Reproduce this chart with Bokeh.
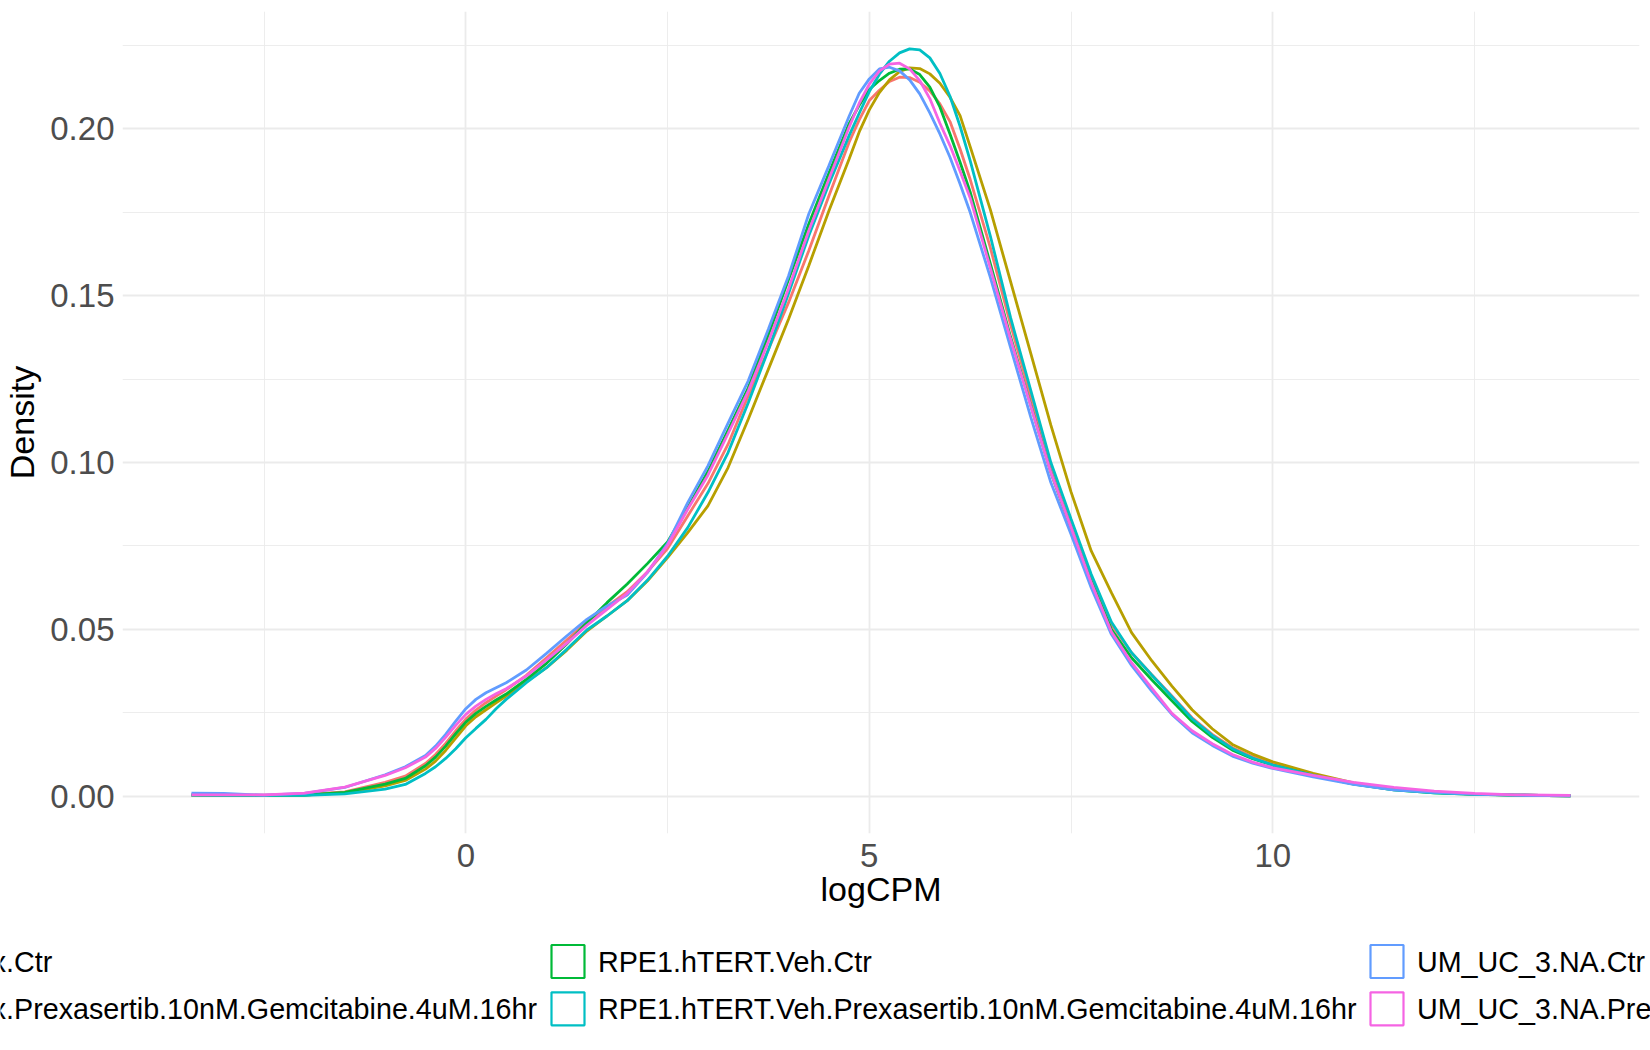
from bokeh.plotting import figure
from bokeh.models import FixedTicker, Range1d, ColumnDataSource
from bokeh.core.properties import value
from bokeh.embed import file_html
from bokeh.resources import INLINE

# ---------------- data ----------------
log_cpm = [-3.4, -3.0, -2.5, -2.0, -1.5,
           -1.0, -0.75, -0.5,
           -0.375, -0.25, -0.125, 0.0, 0.125, 0.25, 0.375, 0.5,
           0.75, 1.0, 1.25, 1.5, 1.75, 2.0, 2.25, 2.5, 2.75, 3.0, 3.25, 3.5, 3.75, 4.0, 4.25, 4.5, 4.75,
           4.875, 5.0, 5.125, 5.25, 5.375, 5.5, 5.625, 5.75, 5.875, 6.0, 6.125, 6.25,
           6.5, 6.75, 7.0, 7.25, 7.5, 7.75, 8.0, 8.25, 8.5, 8.75, 9.0,
           9.25, 9.5, 9.75, 10.0,
           10.5, 11.0, 11.5, 12.0, 12.5, 13.0, 13.69]

dens_dox_ctr = [0.0004, 0.0003, 0.0003, 0.0005, 0.0013,
                0.0041, 0.0060, 0.0098,
                0.0125, 0.0158, 0.0196, 0.0231, 0.0258, 0.0280, 0.0300, 0.0319,
                0.0362, 0.0415, 0.0468, 0.0522, 0.0568, 0.0613, 0.0672, 0.0742, 0.0840, 0.0937, 0.1055, 0.1200, 0.1339, 0.1480, 0.1635, 0.1800, 0.1960,
                0.2027, 0.2085, 0.2116, 0.2142, 0.2155, 0.2154, 0.2140, 0.2114, 0.2075, 0.2022, 0.1940, 0.1849,
                0.1644, 0.1414, 0.1199, 0.0987, 0.0817, 0.0655, 0.0515, 0.0430, 0.0364, 0.0300, 0.0235,
                0.0185, 0.0145, 0.0118, 0.0098,
                0.0065, 0.0038, 0.0021, 0.0011, 0.0006, 0.0003, 0.0001]

dens_dox_prex = [0.0003, 0.0002, 0.0002, 0.0003, 0.0010,
                 0.0031, 0.0047, 0.0081,
                 0.0105, 0.0137, 0.0174, 0.0211, 0.0238, 0.0259, 0.0280, 0.0300,
                 0.0343, 0.0385, 0.0437, 0.0495, 0.0540, 0.0586, 0.0645, 0.0715, 0.0790, 0.0870, 0.0985, 0.1130, 0.1280, 0.1430, 0.1590, 0.1755, 0.1910,
                 0.1991, 0.2057, 0.2109, 0.2147, 0.2172, 0.2183, 0.2181, 0.2165, 0.2137, 0.2095, 0.2040, 0.1947,
                 0.1758, 0.1543, 0.1328, 0.1112, 0.0912, 0.0735, 0.0610, 0.0490, 0.0406, 0.0330, 0.0259,
                 0.0202, 0.0155, 0.0126, 0.0103,
                 0.0068, 0.0040, 0.0021, 0.0011, 0.0006, 0.0003, 0.0001]

dens_veh_ctr = [0.0003, 0.0002, 0.0002, 0.0003, 0.0011,
                0.0036, 0.0053, 0.0091,
                0.0117, 0.0150, 0.0187, 0.0222, 0.0248, 0.0269, 0.0288, 0.0306,
                0.0350, 0.0398, 0.0456, 0.0520, 0.0580, 0.0636, 0.0697, 0.0762, 0.0865, 0.0973, 0.1097, 0.1224, 0.1383, 0.1549, 0.1715, 0.1868, 0.2016,
                0.2071, 0.2118, 0.2145, 0.2167, 0.2179, 0.2180, 0.2163, 0.2125, 0.2066, 0.1985, 0.1900, 0.1811,
                0.1596, 0.1377, 0.1172, 0.0970, 0.0802, 0.0645, 0.0500, 0.0415, 0.0349, 0.0286, 0.0224,
                0.0176, 0.0138, 0.0112, 0.0093,
                0.0062, 0.0036, 0.0019, 0.0010, 0.0005, 0.0003, 0.0001]

dens_veh_prex = [0.0003, 0.0002, 0.0002, 0.0002, 0.0007,
                 0.0021, 0.0035, 0.0068,
                 0.0088, 0.0113, 0.0142, 0.0175, 0.0203, 0.0230, 0.0262, 0.0290,
                 0.0340, 0.0385, 0.0440, 0.0498, 0.0540, 0.0586, 0.0647, 0.0719, 0.0805, 0.0910, 0.1030, 0.1179, 0.1338, 0.1507, 0.1680, 0.1835, 0.1980,
                 0.2047, 0.2112, 0.2164, 0.2203, 0.2228, 0.2240, 0.2237, 0.2213, 0.2166, 0.2098, 0.2008, 0.1905,
                 0.1679, 0.1435, 0.1217, 0.1000, 0.0831, 0.0665, 0.0522, 0.0430, 0.0363, 0.0298, 0.0232,
                 0.0182, 0.0142, 0.0114, 0.0093,
                 0.0062, 0.0037, 0.0019, 0.0010, 0.0005, 0.0003, 0.0001]

dens_um_ctr = [0.0009, 0.0008, 0.0003, 0.0008, 0.0026,
               0.0064, 0.0088, 0.0122,
               0.0150, 0.0185, 0.0225, 0.0262, 0.0290, 0.0310, 0.0325, 0.0340,
               0.0378, 0.0428, 0.0480, 0.0530, 0.0570, 0.0603, 0.0670, 0.0757, 0.0880, 0.0990, 0.1118, 0.1245, 0.1400, 0.1560, 0.1745, 0.1890, 0.2038,
               0.2107, 0.2150, 0.2180, 0.2185, 0.2174, 0.2147, 0.2105, 0.2048, 0.1985, 0.1915, 0.1835, 0.1750,
               0.1555, 0.1345, 0.1137, 0.0940, 0.0785, 0.0625, 0.0485, 0.0392, 0.0315, 0.0245, 0.0190,
               0.0152, 0.0120, 0.0099, 0.0083,
               0.0058, 0.0035, 0.0019, 0.0011, 0.0006, 0.0003, 0.0001]

dens_um_prex = [0.0004, 0.0004, 0.0004, 0.0009, 0.0027,
                0.0062, 0.0085, 0.0117,
                0.0143, 0.0176, 0.0212, 0.0245, 0.0270, 0.0290, 0.0307, 0.0322,
                0.0360, 0.0408, 0.0458, 0.0512, 0.0560, 0.0608, 0.0672, 0.0752, 0.0860, 0.0962, 0.1087, 0.1214, 0.1363, 0.1522, 0.1695, 0.1850, 0.2005,
                0.2077, 0.2134, 0.2173, 0.2194, 0.2197, 0.2180, 0.2145, 0.2091, 0.2017, 0.1950, 0.1873, 0.1793,
                0.1583, 0.1371, 0.1170, 0.0970, 0.0805, 0.0640, 0.0493, 0.0400, 0.0324, 0.0248, 0.0196,
                0.0157, 0.0125, 0.0102, 0.0085,
                0.0062, 0.0041, 0.0026, 0.0015, 0.0008, 0.0004, 0.0002]

sample_names = ["RPE1.hTERT.Dox.Ctr",
                "RPE1.hTERT.Dox.Prexasertib.10nM.Gemcitabine.4uM.16hr",
                "RPE1.hTERT.Veh.Ctr",
                "RPE1.hTERT.Veh.Prexasertib.10nM.Gemcitabine.4uM.16hr",
                "UM_UC_3.NA.Ctr",
                "UM_UC_3.NA.Prexasertib.10nM.Gemcitabine.4uM.16hr"]
series = [dens_dox_ctr, dens_dox_prex, dens_veh_ctr, dens_veh_prex, dens_um_ctr, dens_um_prex]
colors = ["#F8766D", "#B79F00", "#00BA38", "#00BFC4", "#619CFF", "#F564E3"]

x_ticks = [0, 5, 10]
x_tick_labels = ["0", "5", "10"]
x_minor = [-2.5, 2.5, 7.5, 12.5]
y_ticks = [0.0, 0.05, 0.10, 0.15, 0.20]
y_tick_labels = ["0.00", "0.05", "0.10", "0.15", "0.20"]
y_minor = [0.025, 0.075, 0.125, 0.175, 0.225]

# ---------------- layout constants (pixels) ----------------
PAGE_W, PAGE_H = 1650, 1050
MAIN_H = 925
LEG_H = PAGE_H - MAIN_H
FONT = "Liberation Sans"

# legend grid: 2 rows x 3 columns (column-major, like ggplot), wider than the page
leg_col_key_left = [-270, 551, 1370]
leg_row_center = [36, 83.3]
KEY = 33
KEY_GAP = 13.5

# ---------------- ranges (ggplot-like 5% expansion) ----------------
xmin, xmax = min(log_cpm), max(log_cpm)
ymax = max(max(s) for s in series)
xpad = 0.05 * (xmax - xmin)
ypad = 0.05 * ymax

p = figure(frame_width=1517, frame_height=822,
           x_range=Range1d(xmin - xpad, xmax + xpad),
           y_range=Range1d(-ypad, ymax + ypad),
           output_backend="svg", toolbar_location=None,
           min_border_left=0, min_border_top=11, min_border_right=12,
           min_border_bottom=MAIN_H - 11 - 822,
           background_fill_color="white", border_fill_color="white")
p.outline_line_color = None

for g in (p.xgrid, p.ygrid):
    g.grid_line_color = "#EBEBEB"
    g.grid_line_width = 1.8
    g.minor_grid_line_color = "#EBEBEB"
    g.minor_grid_line_width = 0.9

p.xaxis.ticker = FixedTicker(ticks=x_ticks, minor_ticks=x_minor)
p.yaxis.ticker = FixedTicker(ticks=y_ticks, minor_ticks=y_minor)
p.xaxis.major_label_overrides = {t: l for t, l in zip(x_ticks, x_tick_labels)}
p.yaxis.major_label_overrides = {t: l for t, l in zip(y_ticks, y_tick_labels)}

for ax in (p.xaxis, p.yaxis):
    ax.axis_line_color = None
    ax.major_tick_line_color = None
    ax.minor_tick_line_color = None
    ax.major_tick_out = 0
    ax.major_tick_in = 0
    ax.minor_tick_out = 0
    ax.minor_tick_in = 0
    ax.major_label_text_font = FONT
    ax.major_label_text_font_size = "33px"
    ax.major_label_text_color = "#4D4D4D"
    ax.axis_label_text_font = FONT
    ax.axis_label_text_font_size = "34px"
    ax.axis_label_text_font_style = "normal"
    ax.axis_label_text_color = "black"

p.xaxis.axis_label = "logCPM"
p.yaxis.axis_label = "Density"
p.xaxis.major_label_standoff = 10
p.xaxis.axis_label_standoff = 0
p.yaxis.major_label_standoff = 8
p.yaxis.axis_label_standoff = 6

for vals, col in zip(series, colors):
    src = ColumnDataSource(dict(x=log_cpm, y=vals))
    p.line("x", "y", source=src, line_color=col, line_width=2.8)

# ---------------- legend strip (separate pixel-space figure, own root) ----------------
lg = figure(width=PAGE_W, height=LEG_H,
            x_range=Range1d(0, PAGE_W), y_range=Range1d(LEG_H, 0),
            output_backend="svg", toolbar_location=None,
            min_border=0, min_border_left=0, min_border_right=0,
            min_border_top=0, min_border_bottom=0,
            x_axis_location=None, y_axis_location=None,
            background_fill_color="white", border_fill_color="white")
lg.outline_line_color = None
lg.xgrid.visible = False
lg.ygrid.visible = False

k_left, k_right, k_top, k_bot, t_x, t_y = [], [], [], [], [], []
for i in range(len(sample_names)):
    c, r = divmod(i, 2)
    kl = leg_col_key_left[c]
    yc = leg_row_center[r]
    k_left.append(kl)
    k_right.append(kl + KEY)
    k_top.append(yc - KEY / 2)
    k_bot.append(yc + KEY / 2)
    t_x.append(kl + KEY + KEY_GAP)
    t_y.append(yc)

leg_src = ColumnDataSource(dict(left=k_left, right=k_right, top=k_top, bottom=k_bot,
                                tx=t_x, ty=t_y, label=sample_names, color=colors))
lg.quad(left="left", right="right", top="top", bottom="bottom", source=leg_src,
        fill_alpha=0, line_color="color", line_width=2.2)
lg.text(x="tx", y="ty", text="label", source=leg_src,
        text_font=value(FONT), text_font_size="28.7px", text_color="black",
        text_align="left", text_baseline="middle")

open("out.html", "w").write(file_html([p, lg], INLINE))
